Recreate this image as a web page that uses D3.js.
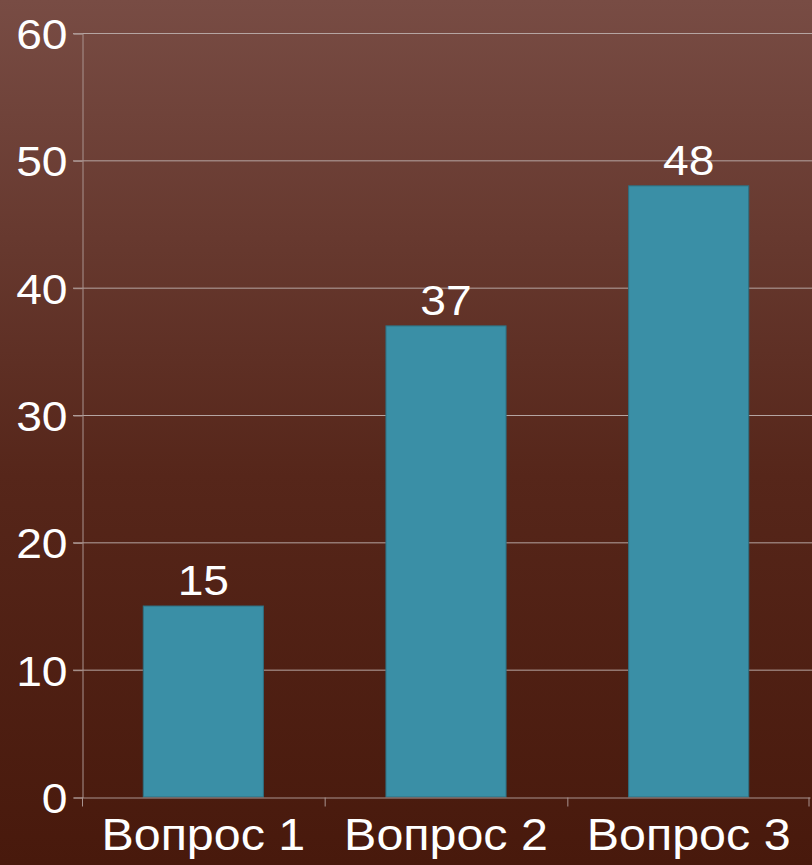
<!doctype html>
<html lang="ru">
  <head>
    <meta charset="utf-8">
    <title>Вопросы</title>
    <script src="https://d3js.org/d3.v7.min.js"></script>
    <style>
      body { margin: 0; background: #4a1a0e; }
      svg { display: block; font-family: 'Liberation Sans', Arial, sans-serif; }
    </style>
  </head>
  <body>
    <div id="root"></div>
  <script>
    // data
    const categories = ['Вопрос 1', 'Вопрос 2', 'Вопрос 3'];
    const values = [15, 37, 48];
    const yTicks = [0, 10, 20, 30, 40, 50, 60];

    const width = 812, height = 865;
    const plotLeft = 82, plotRight = 810, plotTop = 33, plotBottom = 797;
    const stretch = 1.1; // the source font runs a little wider than Liberation Sans

    // widen text horizontally around its own x anchor
    function widen(sel) {
      sel.attr('transform', function () {
        const x = +this.getAttribute('x') || 0;
        return `translate(${x * (1 - stretch)},0) scale(${stretch},1)`;
      });
    }

    const svg = d3.select('#root').append('svg')
      .attr('width', width)
      .attr('height', height);

    // background gradient
    const grad = svg.append('defs').append('linearGradient')
      .attr('id', 'bg').attr('x1', 0).attr('y1', 0).attr('x2', 0).attr('y2', 1);
    grad.append('stop').attr('offset', '0%').attr('stop-color', '#784c44');
    grad.append('stop').attr('offset', '55%').attr('stop-color', '#56261a');
    grad.append('stop').attr('offset', '100%').attr('stop-color', '#48190c');
    svg.append('rect').attr('width', width).attr('height', height).attr('fill', 'url(#bg)');

    // scales
    const x = d3.scaleBand().domain(categories).range([plotLeft, plotRight]).paddingInner(0).paddingOuter(0);
    const y = d3.scaleLinear().domain([0, 60]).range([plotBottom, plotTop]);
    const barW = x.bandwidth() * 0.495;

    // gridlines
    svg.append('g').selectAll('line').data(yTicks.slice(1)).enter().append('line')
      .attr('x1', plotLeft - 9).attr('x2', width)
      .attr('y1', d => y(d) + 0.5).attr('y2', d => y(d) + 0.5)
      .attr('stroke', '#b5a5a2').attr('stroke-width', 1);

    // y axis
    const yAxis = d3.axisLeft(y).tickValues(yTicks).tickSize(9).tickPadding(6);
    const gy = svg.append('g').attr('transform', `translate(${plotLeft + 0.5},0.5)`).call(yAxis);
    gy.selectAll('line, path').attr('stroke', '#a9938f');
    gy.selectAll('text').attr('fill', '#fff').attr('font-size', 42)
      .attr('font-family', "'Liberation Sans', Arial, sans-serif")
      .attr('dy', '0.36em')
      .call(widen);

    // bars
    svg.append('g').selectAll('rect').data(values).enter().append('rect')
      .attr('x', (d, i) => x(categories[i]) + (x.bandwidth() - barW) / 2)
      .attr('y', d => y(d))
      .attr('width', barW)
      .attr('height', d => y(0) - y(d))
      .attr('fill', '#3a8fa6')
      .attr('stroke', '#2e6f80').attr('stroke-width', 1);

    // value labels
    svg.append('g').selectAll('text').data(values).enter().append('text')
      .attr('x', (d, i) => x(categories[i]) + x.bandwidth() / 2)
      .attr('y', d => y(d) - 11)
      .attr('text-anchor', 'middle')
      .attr('fill', '#fff').attr('font-size', 42)
      .text(d => d)
      .call(widen);

    // x axis
    const xAxis = d3.axisBottom(x).tickSize(0).tickPadding(0);
    const gx = svg.append('g').attr('transform', `translate(0,${plotBottom + 0.5})`).call(xAxis);
    gx.select('path').attr('stroke', '#a9938f');
    gx.selectAll('text').attr('fill', '#fff').attr('font-size', 44)
      .attr('font-family', "'Liberation Sans', Arial, sans-serif")
      .attr('dy', '1.2em')
      .call(widen);
    // boundary ticks between categories
    gx.selectAll('.sep').data(categories.concat(['end'])).enter().append('line')
      .attr('class', 'sep')
      .attr('x1', (d, i) => i < categories.length ? x(d) + 0.5 : plotRight - 1)
      .attr('x2', (d, i) => i < categories.length ? x(d) + 0.5 : plotRight - 1)
      .attr('y1', 0).attr('y2', 9)
      .attr('stroke', '#a9938f');
  </script>
  </body>
</html>
